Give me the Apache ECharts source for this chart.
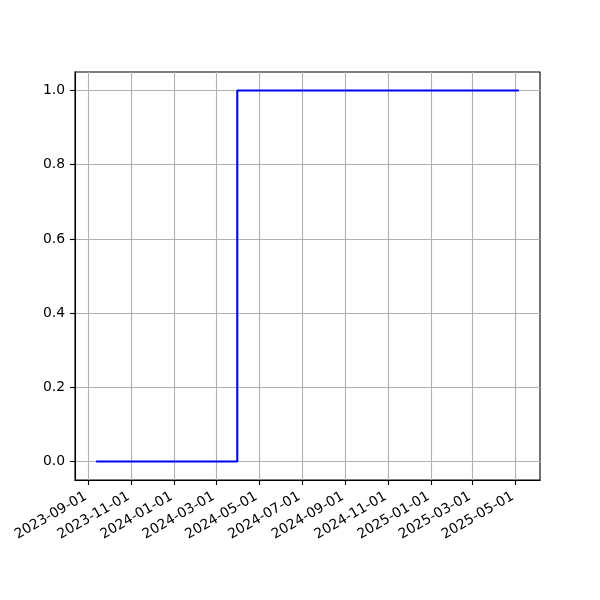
<!DOCTYPE html>
<html>
<head>
<meta charset="utf-8">
<script src="https://cdn.jsdelivr.net/npm/echarts@6/dist/echarts.min.js"></script>
<style>html,body{margin:0;padding:0;background:#fff}#c{width:600px;height:600px}</style>
</head>
<body>
<div id="c"></div>
<script>
const dates = ['2023-09-12', '2024-03-31', '2025-05-06'];
const values = [0, 1, 1];
const xTickLabels = ['2023-09-01','2023-11-01','2024-01-01','2024-03-01','2024-05-01','2024-07-01','2024-09-01','2024-11-01','2025-01-01','2025-03-01','2025-05-01'];
const yTicks = [0, 0.2, 0.4, 0.6, 0.8, 1.0];

function ts(s) { const p = s.split('-').map(Number); return Date.UTC(p[0], p[1] - 1, p[2]); }
function fmt(t) { const d = new Date(t); const m = d.getUTCMonth() + 1, dd = d.getUTCDate(); return d.getUTCFullYear() + '-' + (m < 10 ? '0' : '') + m + '-' + (dd < 10 ? '0' : '') + dd; }

const xs = dates.map(ts);
const xr = xs[xs.length - 1] - xs[0];
const xMin = xs[0] - 0.05 * xr, xMax = xs[xs.length - 1] + 0.05 * xr;
const yMin = Math.min(...values), yMax = Math.max(...values), yr = yMax - yMin;
const xTickVals = xTickLabels.map(ts);

const font = 'DejaVu Sans';
const chart = echarts.init(document.getElementById('c'), null, { renderer: 'canvas' });
chart.setOption({
  animation: false,
  backgroundColor: '#fff',
  grid: { left: 75, top: 72, width: 465, height: 408, show: true, borderColor: '#000', borderWidth: 1.1, backgroundColor: 'transparent' },
  xAxis: {
    type: 'value', min: xMin, max: xMax,
    axisLine: { show: true, onZero: false, lineStyle: { color: '#000', width: 1.1 } },
    axisTick: { show: true, length: 5, inside: false, lineStyle: { color: '#000', width: 1.1 }, customValues: xTickVals },
    axisLabel: { show: true, customValues: xTickVals, rotate: 30, margin: 14, padding: [0, 3, 0, 0], color: '#000', fontFamily: font, fontSize: 13.9, formatter: v => fmt(v) },
    splitLine: { show: true, lineStyle: { color: '#b0b0b0', width: 1.1 } }
  },
  yAxis: {
    type: 'value', min: yMin - 0.05 * yr, max: yMax + 0.05 * yr,
    axisLine: { show: true, onZero: false, lineStyle: { color: '#000', width: 1.1 } },
    axisTick: { show: true, length: 5, inside: false, lineStyle: { color: '#000', width: 1.1 }, customValues: yTicks },
    axisLabel: { show: true, customValues: yTicks, margin: 10, color: '#000', fontFamily: font, fontSize: 13.9, formatter: v => v.toFixed(1) },
    splitLine: { show: true, lineStyle: { color: '#b0b0b0', width: 1.1 } }
  },
  series: [{
    type: 'line', step: 'end', showSymbol: false, symbol: 'none',
    data: xs.map((x, i) => [x, values[i]]),
    lineStyle: { color: '#0000ff', width: 2.1 }
  }]
});
</script>
</body>
</html>
